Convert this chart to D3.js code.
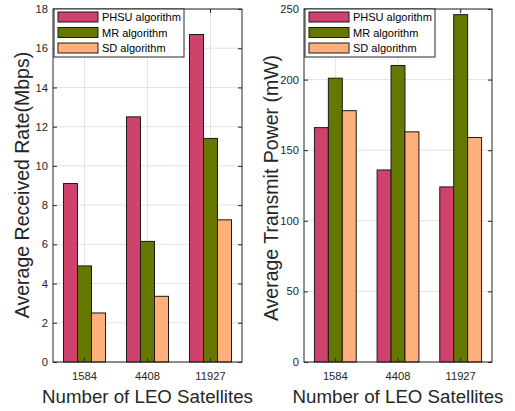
<!DOCTYPE html>
<html>
<head>
<meta charset="utf-8">
<script src="https://cdn.jsdelivr.net/npm/d3@7"></script>
<style>
  html, body { margin: 0; padding: 0; background: #fff; }
  svg { display: block; font-family: "Liberation Sans", Arial, sans-serif; }
</style>
</head>
<body>
<svg id="chart" width="515" height="411"></svg>
<script>
// Satellite constellation sizes on the x axis
const categories = ["1584", "4408", "11927"];
const seriesNames = ["PHSU algorithm", "MR algorithm", "SD algorithm"];
const seriesColors = ["#CE426C", "#667700", "#FFAF7A"];

// Average received rate (Mbps) per algorithm
const rateValues = [
  [9.1, 12.5, 16.7],   // PHSU
  [4.9, 6.15, 11.4],   // MR
  [2.5, 3.35, 7.25]    // SD
];
const rateTicks = [0, 2, 4, 6, 8, 10, 12, 14, 16, 18];

// Average transmit power (mW) per algorithm
const powerValues = [
  [166, 136, 124],     // PHSU
  [201, 210, 246],     // MR
  [178, 163, 159]      // SD
];
const powerTicks = [0, 50, 100, 150, 200, 250];

const svg = d3.select("#chart");
const axisColor = "#262626";
const gridColor = "#E3E3E3";

function drawPanel(opts) {
  const { left, right, top, bottom, values, ticks, yMax, yLabel, yLabelX, yLabelY } = opts;
  const g = svg.append("g");

  const x = d3.scaleBand().domain(categories).range([left, right]).paddingInner(0).paddingOuter(0);
  const y = d3.scaleLinear().domain([0, yMax]).range([bottom, top]);
  const groupWidth = x.bandwidth() * 0.667;
  const xs = d3.scaleBand().domain(seriesNames).range([0, groupWidth]);

  // grid
  g.append("g").selectAll("line").data(ticks).join("line")
    .attr("x1", left).attr("x2", right)
    .attr("y1", d => y(d)).attr("y2", d => y(d))
    .attr("stroke", gridColor).attr("stroke-width", 1);
  g.append("g").selectAll("line").data(categories).join("line")
    .attr("x1", d => x(d) + x.bandwidth() / 2).attr("x2", d => x(d) + x.bandwidth() / 2)
    .attr("y1", top).attr("y2", bottom)
    .attr("stroke", gridColor).attr("stroke-width", 1);

  // bars
  seriesNames.forEach((name, si) => {
    g.append("g").selectAll("rect").data(categories).join("rect")
      .attr("x", (c) => x(c) + (x.bandwidth() - groupWidth) / 2 + xs(name))
      .attr("width", xs.bandwidth())
      .attr("y", (c, i) => y(values[si][i]))
      .attr("height", (c, i) => bottom - y(values[si][i]))
      .attr("fill", seriesColors[si])
      .attr("stroke", "#1a1a1a").attr("stroke-width", 1);
  });

  // axes with inward ticks, box on all four sides
  const fmt = d3.format("d");
  const axL = g.append("g").attr("transform", `translate(${left},0)`)
    .call(d3.axisLeft(y).tickValues(ticks).tickSize(-4).tickPadding(5).tickFormat(fmt));
  const axR = g.append("g").attr("transform", `translate(${right},0)`)
    .call(d3.axisRight(y).tickValues(ticks).tickSize(-4).tickFormat(""));
  const axB = g.append("g").attr("transform", `translate(0,${bottom})`)
    .call(d3.axisBottom(x).tickSize(-4).tickPadding(10));
  const axT = g.append("g").attr("transform", `translate(0,${top})`)
    .call(d3.axisTop(x).tickSize(-4).tickFormat(""));
  [axL, axR, axB, axT].forEach(a => {
    a.select(".domain").remove();
    a.selectAll(".tick line").attr("stroke", axisColor);
    a.selectAll(".tick text").attr("fill", axisColor).attr("font-size", 11.2)
      .attr("font-family", "'Liberation Sans', Arial, sans-serif");
  });
  g.append("rect").attr("x", left).attr("y", top)
    .attr("width", right - left).attr("height", bottom - top)
    .attr("fill", "none").attr("stroke", axisColor).attr("stroke-width", 1);

  // axis titles
  g.append("text")
    .attr("x", (left + right) / 2).attr("y", 403)
    .attr("text-anchor", "middle").attr("font-size", 18.7).attr("fill", axisColor)
    .text("Number of LEO Satellites");
  g.append("text")
    .attr("transform", `translate(${yLabelX},${yLabelY}) rotate(-90)`)
    .attr("text-anchor", "middle").attr("font-size", 19.5).attr("fill", axisColor)
    .text(yLabel);

  // legend
  const lx = left + 1, ly = top;
  const legend = g.append("g");
  legend.append("rect").attr("x", lx).attr("y", ly).attr("width", 130).attr("height", 48)
    .attr("fill", "#fff").attr("stroke", axisColor).attr("stroke-width", 1);
  seriesNames.forEach((name, si) => {
    const cy = ly + 8 + si * 15.5;
    legend.append("rect").attr("x", lx + 4).attr("y", cy - 5).attr("width", 40).attr("height", 10)
      .attr("fill", seriesColors[si]).attr("stroke", "#1a1a1a").attr("stroke-width", 1);
    legend.append("text").attr("x", lx + 48).attr("y", cy + 4)
      .attr("font-size", 11).attr("fill", "#000").text(name);
  });
}

drawPanel({
  left: 53, right: 242, top: 9, bottom: 362,
  values: rateValues, ticks: rateTicks, yMax: 18,
  yLabel: "Average Received Rate(Mbps)", yLabelX: 29, yLabelY: 185
});
drawPanel({
  left: 304, right: 492, top: 9, bottom: 362,
  values: powerValues, ticks: powerTicks, yMax: 250,
  yLabel: "Average Transmit Power (mW)", yLabelX: 278, yLabelY: 188
});
</script>
</body>
</html>
